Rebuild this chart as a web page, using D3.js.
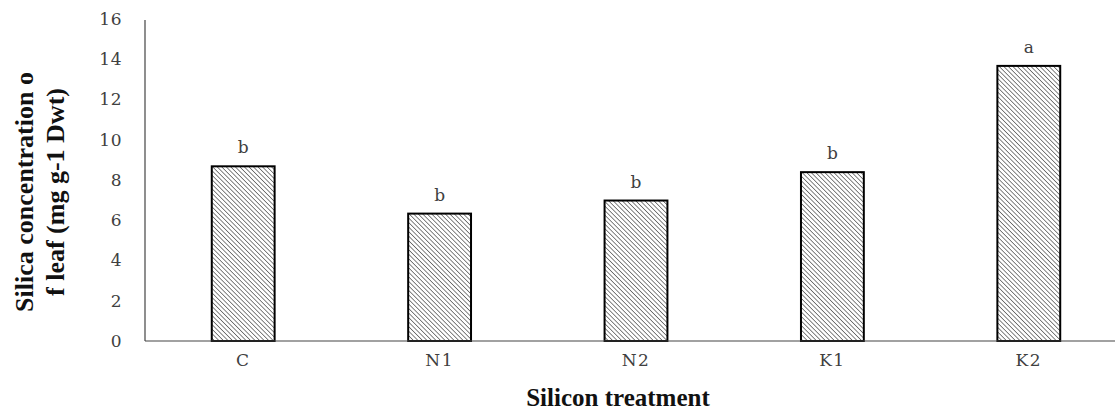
<!DOCTYPE html>
<html><head><meta charset="utf-8">
<script src="https://cdn.jsdelivr.net/npm/d3@7"></script>
<style>body{margin:0;background:#fff}svg{display:block}</style>
</head><body>
<svg id="c" width="1115" height="414"></svg>
<script>
const categories = ["C","N1","N2","K1","K2"];
const values = [8.68, 6.33, 6.98, 8.39, 13.67];
const letters = ["b","b","b","b","a"];
const yTicks = [0,2,4,6,8,10,12,14,16];
const yTitleLines = ["Silica concentration o","f leaf (mg g-1 Dwt)"];
const xTitle = "Silicon treatment";

const svg = d3.select("#c");
const W = 1115, H = 414;
const x0 = 145, x1 = 1127, yTop = 19, yBot = 341;

const x = d3.scaleBand().domain(categories).range([x0, x1]).paddingInner(0.68).paddingOuter(0.34);
const y = d3.scaleLinear().domain([0,16]).range([yBot, yTop]);

const defs = svg.append("defs");
const pat = defs.append("pattern").attr("id","hatch").attr("patternUnits","userSpaceOnUse")
  .attr("width",3.2).attr("height",3.2).attr("patternTransform","rotate(-45)");
pat.append("rect").attr("width",3.2).attr("height",3.2).attr("fill","#fff");
pat.append("line").attr("x1",0).attr("y1",0).attr("x2",0).attr("y2",3.2)
  .attr("stroke","#333").attr("stroke-width",1.2);

const serif = "'DejaVu Serif','Liberation Serif',serif";
const tserif = "'Liberation Serif','Times New Roman',serif";

// y axis
const yAxis = d3.axisLeft(y).tickValues(yTicks).tickSize(0).tickPadding(23);
const gy = svg.append("g").attr("transform",`translate(${x0},0)`).call(yAxis);
gy.select(".domain").attr("stroke","#444").attr("stroke-width",1.2).attr("d",`M0,${y(16)+1}V${yBot}`);
gy.selectAll("text").attr("font-family",serif).attr("font-size",17).attr("fill","#404040").attr("letter-spacing","0.5px");

// bars
svg.selectAll("rect.bar").data(values).join("rect").attr("class","bar")
  .attr("x",(d,i)=>x(categories[i])).attr("width",x.bandwidth())
  .attr("y",d=>y(d)).attr("height",d=>yBot-y(d))
  .attr("fill","url(#hatch)").attr("stroke","#000").attr("stroke-width",2);

// x axis
const xAxis = d3.axisBottom(x).tickSize(0).tickPadding(13);
const gx = svg.append("g").attr("transform",`translate(0,${yBot})`).call(xAxis);
gx.select(".domain").attr("stroke","#444").attr("stroke-width",1.2).attr("d",`M${x0},0H${W}`);
gx.selectAll("text").attr("font-family",serif).attr("font-size",17).attr("fill","#404040").attr("letter-spacing","1.5px");

// letters
svg.selectAll("text.lab").data(values).join("text").attr("class","lab")
  .attr("x",(d,i)=>x(categories[i])+x.bandwidth()/2).attr("y",d=>y(d)-13)
  .attr("text-anchor","middle").attr("font-family",serif).attr("font-size",17).attr("fill","#404040")
  .text((d,i)=>letters[i]);

// y title
const yt = svg.append("text").attr("transform","translate(33,192) rotate(-90)")
  .attr("text-anchor","middle").attr("font-family",tserif).attr("font-weight","bold").attr("font-size",26).attr("fill","#111");
yTitleLines.forEach((t,i)=>yt.append("tspan").attr("x",0).attr("dy",i===0?0:31).text(t));

// x title
svg.append("text").attr("x",618).attr("y",406).attr("text-anchor","middle")
  .attr("font-family",tserif).attr("font-weight","bold").attr("font-size",25).attr("fill","#111").text(xTitle);
</script>
</body></html>
